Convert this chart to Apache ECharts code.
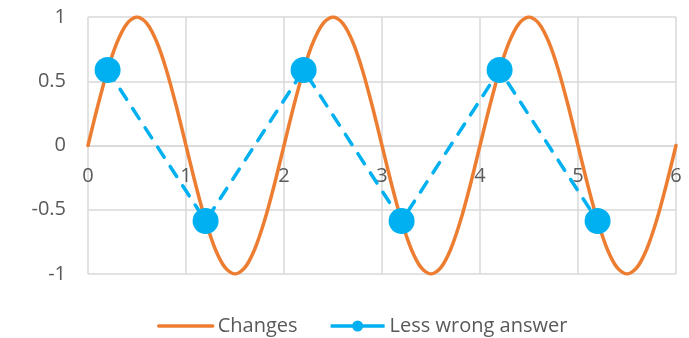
<!DOCTYPE html>
<html>
<head>
<meta charset="utf-8">
<script src="https://cdn.jsdelivr.net/npm/echarts@6/dist/echarts.min.js"></script>
<style>
  html, body { margin: 0; padding: 0; background: #fff; }
  #chart { width: 689px; height: 338px; }
</style>
</head>
<body>
<div id="chart"></div>
<script>
// Orange curve: samples every 0.1 along x from 0 to 6
const curveX = [
  0, 0.1, 0.2, 0.3, 0.4, 0.5, 0.6, 0.7, 0.8, 0.9,
  1, 1.1, 1.2, 1.3, 1.4, 1.5, 1.6, 1.7, 1.8, 1.9,
  2, 2.1, 2.2, 2.3, 2.4, 2.5, 2.6, 2.7, 2.8, 2.9,
  3, 3.1, 3.2, 3.3, 3.4, 3.5, 3.6, 3.7, 3.8, 3.9,
  4, 4.1, 4.2, 4.3, 4.4, 4.5, 4.6, 4.7, 4.8, 4.9,
  5, 5.1, 5.2, 5.3, 5.4, 5.5, 5.6, 5.7, 5.8, 5.9, 6
];
const curveY = [
  0, 0.309, 0.588, 0.809, 0.951, 1, 0.951, 0.809, 0.588, 0.309,
  0, -0.309, -0.588, -0.809, -0.951, -1, -0.951, -0.809, -0.588, -0.309,
  0, 0.309, 0.588, 0.809, 0.951, 1, 0.951, 0.809, 0.588, 0.309,
  0, -0.309, -0.588, -0.809, -0.951, -1, -0.951, -0.809, -0.588, -0.309,
  0, 0.309, 0.588, 0.809, 0.951, 1, 0.951, 0.809, 0.588, 0.309,
  0, -0.309, -0.588, -0.809, -0.951, -1, -0.951, -0.809, -0.588, -0.309, 0
];

// Blue dashed series: sampled answers
const answerX = [0.2, 1.2, 2.2, 3.2, 4.2, 5.2];
const answerY = [0.588, -0.588, 0.588, -0.588, 0.588, -0.588];

const seriesNames = ['Changes', 'Less wrong answer'];

const xTicks = { min: 0, max: 6, interval: 1 };
const yTicks = { min: -1, max: 1, interval: 0.5 };

const FONT = 'Open Sans';
const TEXT = '#595959';
const GRID = '#D9D9D9';
const ORANGE = '#ED7D31';
const BLUE = '#00B0F0';

const GRID_TOP = 17;
const GRID_BOTTOM = 64;
const PLOT_H = 338 - GRID_TOP - GRID_BOTTOM;

// legend swatch: solid stroke on both sides of a round marker (54 x 11 box)
const ANSWER_ICON =
  'path://M0,3.75h22.5v3.5h-22.5z' +
  'M31.5,3.75h22.5v3.5h-22.5z' +
  'M21.5,5.5a5.5,5.5 0 1,1 11,0a5.5,5.5 0 1,1 -11,0z';

const chart = echarts.init(document.getElementById('chart'), null, { renderer: 'canvas' });

chart.setOption({
  animation: false,
  backgroundColor: '#fff',
  textStyle: { fontFamily: FONT },
  grid: { left: 88, right: 13, top: GRID_TOP, bottom: GRID_BOTTOM, containLabel: false },
  legend: {
    top: 316,
    left: 157,
    padding: 0,
    itemWidth: 54,
    itemHeight: 11,
    itemGap: 33,
    lineStyle: { width: 3.5 },
    textStyle: { fontFamily: FONT, fontSize: 20, color: TEXT },
    data: [
      { name: seriesNames[0], itemStyle: { opacity: 0 }, lineStyle: { width: 3.5 } },
      {
        name: seriesNames[1],
        icon: ANSWER_ICON,
        itemStyle: { color: BLUE, borderWidth: 0 }
      }
    ]
  },
  xAxis: {
    type: 'value',
    min: xTicks.min,
    max: xTicks.max,
    interval: xTicks.interval,
    // the horizontal axis runs through y = 0, halfway up the plot
    offset: -PLOT_H / 2,
    axisLine: { show: true, lineStyle: { color: GRID, width: 1.5 } },
    axisTick: { show: false },
    axisLabel: { color: TEXT, fontSize: 20, fontFamily: FONT, margin: 21 },
    splitLine: { show: true, lineStyle: { color: GRID, width: 1.5 } }
  },
  yAxis: {
    type: 'value',
    min: yTicks.min,
    max: yTicks.max,
    interval: yTicks.interval,
    axisLine: { show: false },
    axisTick: { show: false },
    axisLabel: { color: TEXT, fontSize: 20, fontFamily: FONT, margin: 22 },
    splitLine: { show: true, lineStyle: { color: GRID, width: 1.5 } }
  },
  series: [
    {
      name: seriesNames[0],
      type: 'line',
      data: curveX.map((x, i) => [x, curveY[i]]),
      smooth: 0.3,
      showSymbol: false,
      symbol: 'none',
      lineStyle: { color: ORANGE, width: 3.5, cap: 'round' },
      itemStyle: { color: ORANGE },
      z: 2
    },
    {
      name: seriesNames[1],
      type: 'line',
      data: answerX.map((x, i) => [x, answerY[i]]),
      symbol: 'circle',
      symbolSize: 26,
      lineStyle: { color: BLUE, width: 3.5, type: [12, 11], cap: 'round' },
      itemStyle: { color: BLUE },
      z: 3
    }
  ]
});
</script>
</body>
</html>
